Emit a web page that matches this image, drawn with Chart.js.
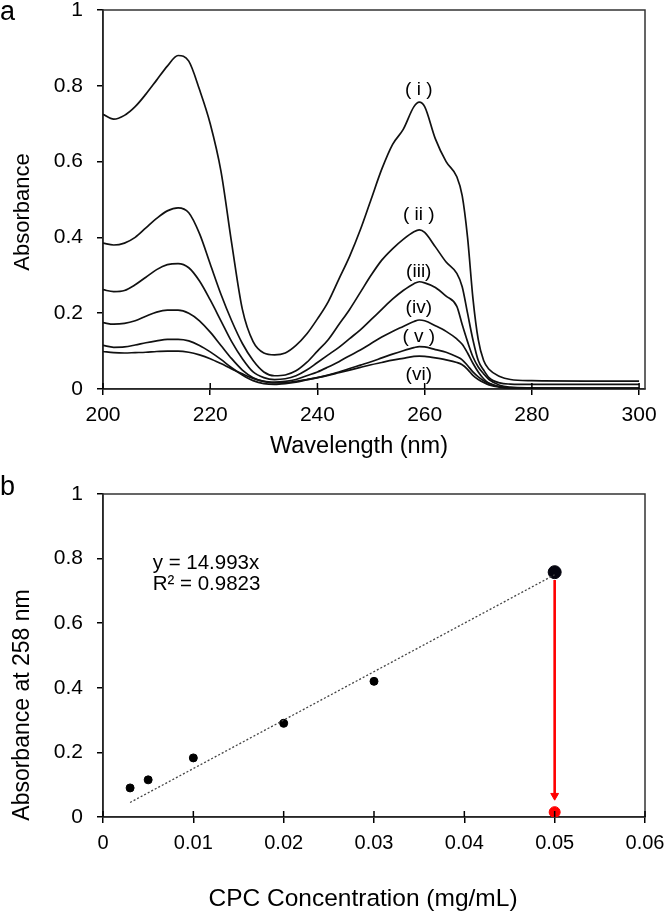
<!DOCTYPE html>
<html>
<head>
<meta charset="utf-8">
<script src="https://cdn.jsdelivr.net/npm/chart.js@4.4.0/dist/chart.umd.min.js"></script>
<style>
  html, body { margin: 0; padding: 0; background: #fff; }
  #wrap { position: relative; width: 666px; height: 915px; font-family: "Liberation Sans", Arial, sans-serif; }
  .panel { position: absolute; left: 0; width: 666px; }
  #pa { top: 0; height: 470px; }
  #pb { top: 470px; height: 445px; }
  .tag { position: absolute; left: 0; font-size: 27px; line-height: 27px; color: #000; }
</style>
</head>
<body>
<div id="wrap">
  <div class="panel" id="pa"><canvas id="chartA"></canvas></div>
  <div class="panel" id="pb"><canvas id="chartB"></canvas></div>
  <div class="tag" style="top:-2px">a</div>
  <div class="tag" style="top:473px">b</div>
</div>
<script>
// panel a: UV spectra
const wavelengths = [200,202,204,206,208,210,212,214,216,218,220,222,224,226,228,230,232,234,236,238,
  240,242,244,246,248,250,252,254,256,258,259,260,262,264,266,267,268,269,270,271,272,274,276,280,290,300];
const absI = [0.725,0.712,0.722,0.745,0.778,0.815,0.852,0.880,0.865,0.790,0.700,0.575,0.385,0.210,0.125,0.095,0.090,0.095,0.115,0.145,
  0.185,0.230,0.290,0.350,0.420,0.500,0.580,0.645,0.685,0.745,0.757,0.745,0.660,0.600,0.560,0.510,0.400,0.240,0.130,0.075,0.052,0.033,0.025,0.022,0.021,0.021];
const absII = [0.385,0.380,0.385,0.400,0.425,0.450,0.470,0.478,0.465,0.410,0.330,0.250,0.180,0.120,0.075,0.045,0.035,0.037,0.048,0.070,
  0.100,0.130,0.170,0.210,0.255,0.300,0.340,0.370,0.395,0.415,0.420,0.413,0.375,0.335,0.305,0.270,0.200,0.130,0.075,0.050,0.030,0.016,0.013,0.012,0.012,0.012];
const absIII = [0.262,0.257,0.260,0.275,0.295,0.315,0.328,0.331,0.320,0.285,0.235,0.180,0.125,0.080,0.045,0.030,0.025,0.027,0.035,0.050,
  0.070,0.090,0.110,0.133,0.156,0.183,0.210,0.237,0.260,0.278,0.283,0.280,0.268,0.245,0.218,0.170,0.125,0.085,0.058,0.040,0.025,0.010,0.005,0.003,0.002,0.002];
const absIV = [0.175,0.171,0.173,0.180,0.192,0.203,0.208,0.208,0.200,0.180,0.150,0.115,0.080,0.050,0.030,0.020,0.018,0.020,0.025,0.035,
  0.045,0.058,0.072,0.088,0.103,0.120,0.137,0.152,0.165,0.178,0.182,0.180,0.167,0.152,0.132,0.118,0.095,0.068,0.045,0.027,0.015,0.006,0.003,0.002,0.002,0.002];
const absV = [0.115,0.110,0.111,0.116,0.122,0.127,0.131,0.131,0.127,0.115,0.098,0.078,0.056,0.037,0.022,0.014,0.012,0.014,0.018,0.024,
  0.030,0.037,0.045,0.054,0.063,0.072,0.082,0.092,0.101,0.109,0.112,0.111,0.104,0.097,0.085,0.077,0.062,0.045,0.032,0.022,0.015,0.006,0.003,0.002,0.002,0.002];
const absVI = [0.099,0.096,0.095,0.096,0.097,0.099,0.100,0.100,0.097,0.090,0.080,0.067,0.053,0.040,0.028,0.020,0.016,0.017,0.020,0.025,
  0.030,0.036,0.043,0.050,0.057,0.064,0.070,0.076,0.081,0.086,0.087,0.086,0.082,0.077,0.070,0.064,0.052,0.036,0.025,0.017,0.011,0.005,0.003,0.002,0.002,0.002];
const curveLabels = ['( i )', '( ii )', '(iii)', '(iv)', '( v )', '(vi)'];
const curveLabelX = [258.9, 258.9, 258.9, 258.9, 258.9, 258.9];
const curveLabelY = [0.789, 0.459, 0.309, 0.214, 0.137, 0.037];

// panel b: calibration at 258 nm
const concentrations = [0.003, 0.005, 0.01, 0.02, 0.03];
const absorbance258 = [0.09, 0.115, 0.183, 0.29, 0.42];
const sampleConc = 0.05;
const sampleAbs = 0.758;
const recoveredAbs = 0.015;
const fitX = [0.003, 0.05];
const fitY = [0.045, 0.75];
const arrowY = [0.734, 0.07];
const arrowHeadY = 0.066;
const equation = ['y = 14.993x', 'R² = 0.9823'];

Chart.defaults.font.family = '"Liberation Sans", Arial, sans-serif';
Chart.defaults.color = '#000';

const frame = {
  id: 'frame',
  beforeDatasetsDraw(chart) {
    const {ctx, chartArea: a} = chart;
    ctx.save();
    ctx.strokeStyle = '#333';
    ctx.lineWidth = 1.5;
    ctx.strokeRect(a.left, a.top, a.right - a.left, a.bottom - a.top);
    ctx.restore();
  }
};

// x ticks cross the axis in the original
const innerTicks = {
  id: 'innerTicks',
  afterDatasetsDraw(chart) {
    const {ctx, chartArea: a, scales: {x}} = chart;
    ctx.save();
    ctx.strokeStyle = '#000';
    ctx.lineWidth = 1.5;
    x.ticks.forEach(t => {
      const px = x.getPixelForValue(t.value);
      ctx.beginPath();
      ctx.moveTo(px, a.bottom);
      ctx.lineTo(px, a.bottom - 6);
      ctx.stroke();
    });
    ctx.restore();
  }
};

const notes = {
  id: 'notes',
  afterDatasetsDraw(chart, args, opts) {
    const {ctx, scales: {x, y}} = chart;
    ctx.save();
    ctx.fillStyle = '#000';
    ctx.font = opts.size + 'px "Liberation Sans", Arial, sans-serif';
    ctx.textAlign = opts.align;
    ctx.textBaseline = opts.baseline;
    opts.items.forEach(it => ctx.fillText(it.text, x.getPixelForValue(it.x), y.getPixelForValue(it.y)));
    ctx.restore();
  }
};

// axis titles sit a little off-centre in the original, so they are placed by hand
const axisTitles = {
  id: 'axisTitles',
  afterDraw(chart, args, opts) {
    const {ctx} = chart;
    opts.items.forEach(t => {
      ctx.save();
      ctx.translate(t.x, t.y);
      ctx.rotate(t.rotate ? -Math.PI / 2 : 0);
      ctx.fillStyle = '#000';
      ctx.font = t.size + 'px "Liberation Sans", Arial, sans-serif';
      ctx.textAlign = 'center';
      ctx.textBaseline = 'middle';
      ctx.fillText(t.text, 0, 0);
      ctx.restore();
    });
  }
};

function axisStyle() {
  return {
    grid: { drawOnChartArea: false, tickLength: 6, color: '#000', lineWidth: 1.5 },
    border: { color: '#000', width: 1.6 }
  };
}
const fmt = v => String(+v.toFixed(2));

const spectra = [absI, absII, absIII, absIV, absV, absVI];

new Chart(document.getElementById('chartA'), {
  type: 'line',
  data: {
    datasets: spectra.map((ys, i) => ({
      label: curveLabels[i],
      data: wavelengths.map((w, j) => ({ x: w, y: ys[j] })),
      borderColor: '#111',
      borderWidth: 1.7,
      pointRadius: 0,
      cubicInterpolationMode: 'monotone',
      fill: false
    }))
  },
  options: {
    responsive: true,
    maintainAspectRatio: false,
    animation: false,
    layout: { padding: { top: 10, right: 21, left: 0, bottom: 0 } },
    plugins: {
      legend: { display: false },
      tooltip: { enabled: false },
      notes: {
        size: 19, align: 'center', baseline: 'middle',
        items: curveLabels.map((t, i) => ({ text: t, x: curveLabelX[i], y: curveLabelY[i] }))
      },
      axisTitles: {
        items: [
          { text: 'Absorbance', x: 23, y: 212, size: 22, rotate: true },
          { text: 'Wavelength (nm)', x: 359, y: 447, size: 23.5 }
        ]
      }
    },
    scales: {
      x: {
        type: 'linear', min: 200, max: 301.1,
        afterFit: s => { s.height = 81; s.paddingLeft = 0; s.paddingRight = 0; },
        ticks: { stepSize: 20, includeBounds: false, padding: 8, maxRotation: 0, font: { size: 21 } },
        ...axisStyle()
      },
      y: {
        min: 0, max: 1,
        afterFit: s => { s.width = 103; s.paddingTop = 0; s.paddingBottom = 0; },
        ticks: { stepSize: 0.2, padding: 14, font: { size: 21 }, callback: fmt },
        ...axisStyle()
      }
    }
  },
  plugins: [frame, innerTicks, notes, axisTitles]
});

new Chart(document.getElementById('chartB'), {
  type: 'scatter',
  data: {
    datasets: [
      {
        label: 'fit',
        data: fitX.map((v, i) => ({ x: v, y: fitY[i] })),
        showLine: true, borderColor: '#444', borderWidth: 1.3, borderDash: [2, 2], pointRadius: 0
      },
      {
        label: 'standards',
        data: concentrations.map((c, i) => ({ x: c, y: absorbance258[i] })),
        backgroundColor: '#000', borderColor: '#000', pointRadius: 4
      },
      {
        label: 'sample',
        data: [{ x: sampleConc, y: sampleAbs }],
        backgroundColor: '#05050f', borderColor: '#05050f', pointRadius: 6.5
      },
      {
        label: 'arrow',
        data: arrowY.map(v => ({ x: sampleConc, y: v })),
        showLine: true, borderColor: '#ff0000', borderWidth: 2.6, pointRadius: 0
      },
      {
        label: 'arrow head',
        data: [{ x: sampleConc, y: arrowHeadY }],
        pointStyle: 'triangle', rotation: 180, pointRadius: 4.5,
        backgroundColor: '#ff0000', borderColor: '#ff0000', borderWidth: 1
      },
      {
        label: 'recovered',
        data: [{ x: sampleConc, y: recoveredAbs }],
        backgroundColor: '#ff0000', borderColor: '#ff0000', pointRadius: 5.5
      }
    ]
  },
  options: {
    responsive: true,
    maintainAspectRatio: false,
    animation: false,
    layout: { padding: { top: 24, right: 21, left: 0, bottom: 0 } },
    plugins: {
      legend: { display: false },
      tooltip: { enabled: false },
      notes: {
        size: 20.5, align: 'left', baseline: 'alphabetic',
        items: equation.map((t, i) => ({ text: t, x: 0.0055, y: [0.768, 0.703][i] }))
      },
      axisTitles: {
        items: [
          { text: 'Absorbance at 258 nm', x: 23, y: 235, size: 23, rotate: true },
          { text: 'CPC Concentration (mg/mL)', x: 363, y: 429, size: 24.5 }
        ]
      }
    },
    scales: {
      x: {
        type: 'linear', min: 0, max: 0.06,
        afterFit: s => { s.height = 98; s.paddingLeft = 0; s.paddingRight = 0; },
        ticks: { stepSize: 0.01, padding: 8, maxRotation: 0, font: { size: 20 }, callback: fmt },
        ...axisStyle()
      },
      y: {
        min: 0, max: 1,
        afterFit: s => { s.width = 103; s.paddingTop = 0; s.paddingBottom = 0; },
        ticks: { stepSize: 0.2, padding: 14, font: { size: 21 }, callback: fmt },
        ...axisStyle()
      }
    }
  },
  plugins: [frame, innerTicks, notes, axisTitles]
});
</script>
</body>
</html>
